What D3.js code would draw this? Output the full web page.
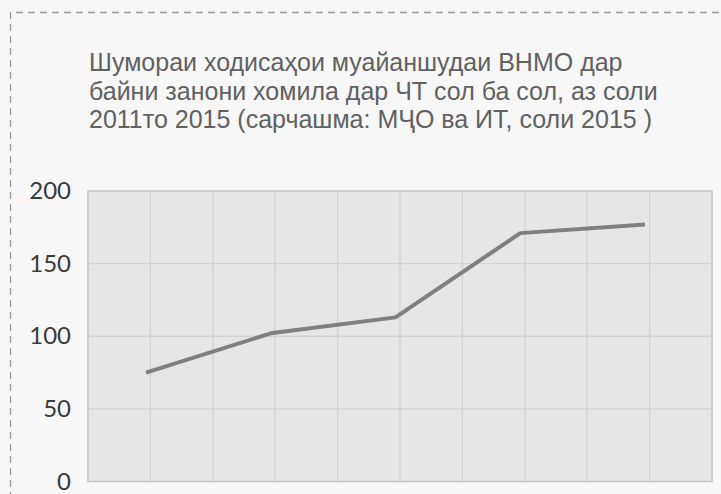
<!DOCTYPE html>
<html>
<head>
<meta charset="utf-8">
<script src="https://d3js.org/d3.v7.min.js"></script>
<style>
  body { margin: 0; background: #f6f6f6; }
  svg { display: block; }
</style>
</head>
<body>
<div id="chart"></div>
<script>
var years = ["2011", "2012", "2013", "2014", "2015"],
    cases = [75, 102, 113, 171, 177],
    yTicks = [0, 50, 100, 150, 200],
    titleLines = [
      "Шумораи ходисаҳои муайаншудаи ВНМО дар",
      "байни занони хомила дар ЧТ сол ба сол, аз соли",
      "2011то 2015 (сарчашма: МҶО ва ИТ, соли 2015 )"
    ];

var width = 721, height = 494,
    plot = {left: 88, right: 712, top: 191, bottom: 481.5};

var svg = d3.select("#chart")
  .append("svg")
    .attr("width", width)
    .attr("height", height);

// page background + dashed frame
svg.append("rect")
    .attr("width", width)
    .attr("height", height)
    .style("fill", "#f7f7f7");

svg.append("path")
    .attr("d", "M10.5," + (height + 5) + "V12.5H" + (width + 5))
    .style("fill", "none")
    .style("stroke", "#9a9a9a")
    .style("stroke-width", 1.3)
    .style("stroke-dasharray", "7,5");

// title
svg.append("g")
    .selectAll("text")
    .data(titleLines)
  .enter().append("text")
    .attr("x", 89)
    .attr("y", function(d, i) { return 71 + i * 28.5; })
    .style("font-family", "'Liberation Sans', Arial, sans-serif")
    .style("font-size", "25px")
    .style("fill", "#616161")
    .text(function(d) { return d; });

var y = d3.scaleLinear()
    .domain([0, 200])
    .range([plot.bottom, plot.top]);

var x = d3.scalePoint()
    .domain(years)
    .range([146, 645]);

// grid columns (two per year)
var gx = d3.scaleLinear()
    .domain([0, 10])
    .range([plot.left, plot.right]);

svg.append("rect")
    .attr("x", plot.left)
    .attr("y", plot.top)
    .attr("width", plot.right - plot.left)
    .attr("height", plot.bottom - plot.top)
    .style("fill", "#e6e6e6")
    .style("stroke", "#c4c4c4")
    .style("stroke-width", 1.5);

svg.append("g")
    .selectAll("line")
    .data(d3.range(1, 10))
  .enter().append("line")
    .attr("x1", function(d) { return gx(d); })
    .attr("x2", function(d) { return gx(d); })
    .attr("y1", plot.top)
    .attr("y2", plot.bottom)
    .style("stroke", "#d2d2d2")
    .style("stroke-width", 1.3);

svg.append("g")
    .selectAll("line")
    .data(yTicks.slice(1, -1))
  .enter().append("line")
    .attr("x1", plot.left)
    .attr("x2", plot.right)
    .attr("y1", function(d) { return y(d); })
    .attr("y2", function(d) { return y(d); })
    .style("stroke", "#d2d2d2")
    .style("stroke-width", 1.3);

// y axis labels
var yAxis = d3.axisLeft(y)
    .tickValues(yTicks)
    .tickSize(0)
    .tickPadding(0);

var ya = svg.append("g")
    .attr("transform", "translate(71,0)")
    .call(yAxis);
ya.select(".domain").remove();
ya.selectAll("text")
    .style("font-family", "Lato, 'DejaVu Sans', sans-serif")
    .style("font-size", "24px")
    .style("fill", "#3a3a3a");

// series line
var line = d3.line()
    .x(function(d, i) { return x(years[i]); })
    .y(function(d) { return y(d); });

svg.append("path")
    .datum(cases)
    .attr("d", line)
    .style("fill", "none")
    .style("stroke", "#7f7f7f")
    .style("stroke-width", 4)
    .style("stroke-linejoin", "round");
</script>
</body>
</html>
